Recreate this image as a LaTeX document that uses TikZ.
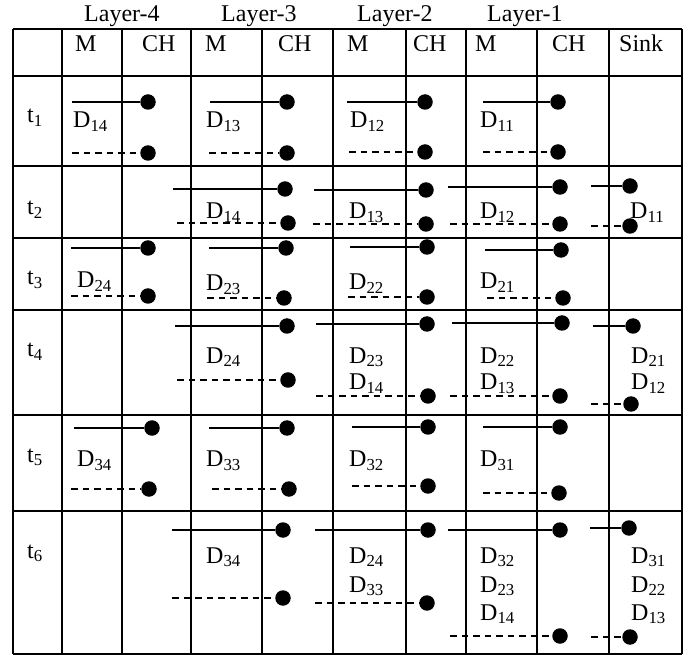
\documentclass[tikz,border=0pt]{standalone}
\usepackage{fontspec}
\setmainfont{Liberation Serif}
\tikzset{
  grid line/.style={line width=1.8pt},
  lbl/.style={anchor=base west, inner sep=0pt, font=\fontsize{24}{28}\selectfont},
  dot/.style={circle, fill=black, draw=none, minimum size=15.5pt, inner sep=0pt},
  solidmsg/.style={line width=1.4pt},
  dashmsg/.style={line width=2.1pt, dash pattern=on 6.5pt off 5pt},
}
% one transmission: free start point, dot at the cluster head / sink
\newcommand\sendmsg[5]{%
  \coordinate (#1s) at (#3,#5);
  \node[dot] (#1) at (#4,#5) {};
  \draw[#2] (#1s) -- (#1);
}
% one data packet label D_{ij}
\newcommand\dlab[4]{\node[lbl] (#1) at (#2,#3) {D\textsubscript{#4}};}
\begin{document}
\begin{tikzpicture}[x=1pt, y=-1pt]
\useasboundingbox (0,0) rectangle (689,655);

% table grid
\foreach \xx in {13,62,122,191,262,333,406,466,537,609,682}
  \draw[grid line] (\xx,29) -- (\xx,654);
\foreach \yy in {29,76,166,238,310,415,511,654}
  \draw[grid line] (13,\yy) -- (682,\yy);

% layer captions
\node[lbl] (lay4) at (84,22) {Layer-4};
\node[lbl] (lay3) at (221,22) {Layer-3};
\node[lbl] (lay2) at (357,22) {Layer-2};
\node[lbl] (lay1) at (487,22) {Layer-1};

% column heads
\node[lbl] (h4m) at (75,52) {M};
\node[lbl] (h4c) at (142,52) {CH};
\node[lbl] (h3m) at (205,52) {M};
\node[lbl] (h3c) at (278,52) {CH};
\node[lbl] (h2m) at (347,52) {M};
\node[lbl] (h2c) at (413,52) {CH};
\node[lbl] (h1m) at (475,52) {M};
\node[lbl] (h1c) at (552,52) {CH};
\node[lbl] (hs) at (619,52) {Sink};

% time slots
\node[lbl] (t1) at (27,123) {t\textsubscript{1}};
\node[lbl] (t2) at (27,215) {t\textsubscript{2}};
\node[lbl] (t3) at (27,285) {t\textsubscript{3}};
\node[lbl] (t4) at (27,357) {t\textsubscript{4}};
\node[lbl] (t5) at (27,462) {t\textsubscript{5}};
\node[lbl] (t6) at (27,558) {t\textsubscript{6}};

% ---- t1
\sendmsg{a14}{solidmsg}{72}{148}{102}
\sendmsg{b14}{dashmsg}{72}{148}{153}
\sendmsg{a13}{solidmsg}{210}{287}{102}
\sendmsg{b13}{dashmsg}{209}{287}{153}
\sendmsg{a12}{solidmsg}{347}{425}{102}
\sendmsg{b12}{dashmsg}{349}{425}{152}
\sendmsg{a11}{solidmsg}{483}{558}{102}
\sendmsg{b11}{dashmsg}{483}{558}{152}
\dlab{d1a}{73}{128}{14}
\dlab{d1b}{206}{128}{13}
\dlab{d1c}{350}{128}{12}
\dlab{d1d}{480}{128}{11}

% ---- t2
\sendmsg{a23}{solidmsg}{173}{285}{189}
\sendmsg{b23}{dashmsg}{177}{288}{223}
\sendmsg{a22}{solidmsg}{314}{426}{190}
\sendmsg{b22}{dashmsg}{313}{426}{224}
\sendmsg{a21}{solidmsg}{448}{560}{187}
\sendmsg{b21}{dashmsg}{450}{560}{224}
\sendmsg{a2s}{solidmsg}{591}{630}{186}
\sendmsg{b2s}{dashmsg}{591}{630}{226}
\dlab{d2b}{206}{219}{14}
\dlab{d2c}{349}{219}{13}
\dlab{d2d}{480}{219}{12}
\dlab{d2e}{630}{219}{11}

% ---- t3
\sendmsg{a34}{solidmsg}{71}{148}{248}
\sendmsg{b34}{dashmsg}{71}{148}{296}
\sendmsg{a33}{solidmsg}{209}{286}{248}
\sendmsg{b33}{dashmsg}{207}{284}{298}
\sendmsg{a32}{solidmsg}{350}{427}{247}
\sendmsg{b32}{dashmsg}{348}{427}{297}
\sendmsg{a31}{solidmsg}{485}{561}{250}
\sendmsg{b31}{dashmsg}{487}{563}{298}
\dlab{d3a}{77}{288}{24}
\dlab{d3b}{206}{291}{23}
\dlab{d3c}{349}{290}{22}
\dlab{d3d}{480}{289}{21}

% ---- t4
\sendmsg{a43}{solidmsg}{175}{287}{326}
\sendmsg{b43}{dashmsg}{177}{288}{380}
\sendmsg{a42}{solidmsg}{316}{427}{324}
\sendmsg{b42}{dashmsg}{316}{428}{396}
\sendmsg{a41}{solidmsg}{452}{562}{323}
\sendmsg{b41}{dashmsg}{450}{560}{396}
\sendmsg{a4s}{solidmsg}{593}{633}{326}
\sendmsg{b4s}{dashmsg}{591}{631}{404}
\dlab{d4b}{206}{363}{24}
\dlab{d4c}{349}{363}{23}
\dlab{d4cc}{349}{390}{14}
\dlab{d4d}{480}{363}{22}
\dlab{d4dd}{480}{390}{13}
\dlab{d4e}{631}{363}{21}
\dlab{d4ee}{631}{390}{12}

% ---- t5
\sendmsg{a54}{solidmsg}{74}{152}{428}
\sendmsg{b54}{dashmsg}{71}{149}{489}
\sendmsg{a53}{solidmsg}{209}{287}{428}
\sendmsg{b53}{dashmsg}{212}{289}{489}
\sendmsg{a52}{solidmsg}{352}{428}{427}
\sendmsg{b52}{dashmsg}{352}{428}{486}
\sendmsg{a51}{solidmsg}{483}{560}{427}
\sendmsg{b51}{dashmsg}{483}{559}{493}
\dlab{d5a}{77}{467}{34}
\dlab{d5b}{206}{467}{33}
\dlab{d5c}{349}{467}{32}
\dlab{d5d}{480}{467}{31}

% ---- t6
\sendmsg{a63}{solidmsg}{172}{283}{530}
\sendmsg{b63}{dashmsg}{172}{283}{598}
\sendmsg{a62}{solidmsg}{315}{428}{530}
\sendmsg{b62}{dashmsg}{315}{427}{603}
\sendmsg{a61}{solidmsg}{448}{560}{530}
\sendmsg{b61}{dashmsg}{450}{560}{636}
\sendmsg{a6s}{solidmsg}{590}{629}{528}
\sendmsg{b6s}{dashmsg}{591}{630}{637}
\dlab{d6b}{206}{563}{34}
\dlab{d6c}{349}{563}{24}
\dlab{d6cc}{349}{592}{33}
\dlab{d6d}{480}{563}{32}
\dlab{d6dd}{480}{592}{23}
\dlab{d6ddd}{480}{620}{14}
\dlab{d6e}{631}{563}{31}
\dlab{d6ee}{631}{592}{22}
\dlab{d6eee}{631}{620}{13}
\end{tikzpicture}
\end{document}
